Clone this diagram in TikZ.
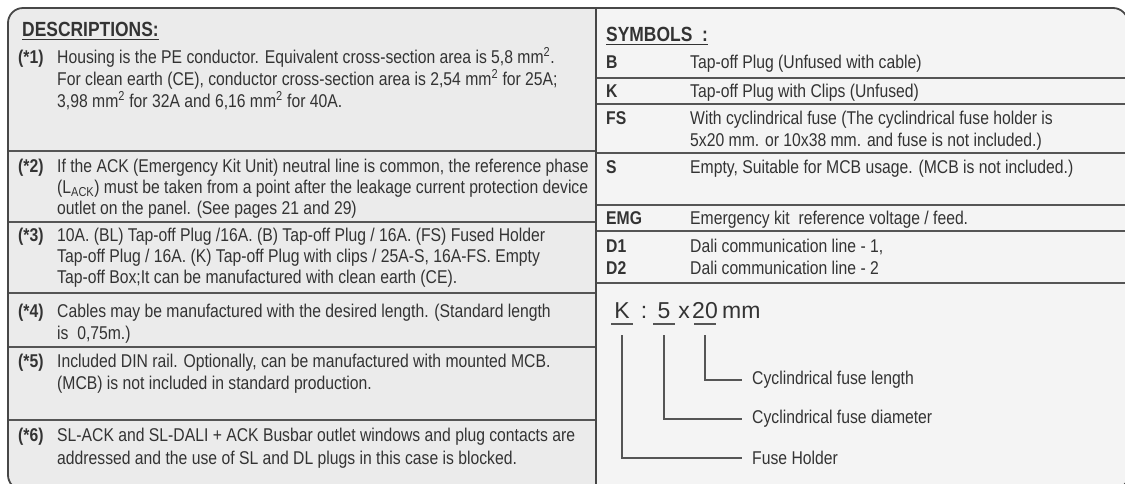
\documentclass[tikz,border=0pt]{standalone}
\usepackage{fontspec}
\setmainfont{Liberation Sans}[FakeStretch=0.85]
\newfontfamily\widefont{Liberation Sans}
\usetikzlibrary{calc}

\definecolor{Ink}{HTML}{333333}
\definecolor{Rule}{HTML}{555555}
\definecolor{PanelL}{HTML}{EBEBEB}
\definecolor{PanelR}{HTML}{F4F4F4}

\newcommand{\pxfont}[1]{\fontsize{#1}{#1}\selectfont}

\begin{document}
\begin{tikzpicture}[x=1pt, y=-1pt,
  lbl/.style={anchor=base west, inner sep=0, text=Ink, font=\pxfont{18.5}\bfseries},
  txt/.style={anchor=base west, inner sep=0, text=Ink, font=\pxfont{18.5}},
  head/.style={anchor=base west, inner sep=0, text=Ink, font=\pxfont{20.5}\bfseries},
  fusebig/.style={inner sep=0, text=Ink, font=\widefont\pxfont{23}},
  fuselbl/.style={anchor=west, inner xsep=10pt, inner ysep=0, text=Ink, font=\pxfont{18.5}},
  rowline/.style={draw=Rule, line width=1.2},
  frame/.style={draw=Ink!90, line width=1.8}]

\useasboundingbox (0,0) rectangle (1125,483);

%%%%%%%%%% Panels %%%%%%%%%%
 \fill [PanelR, rounded corners=15] (8,8) rectangle (1128,490);
 \begin{scope}
  \clip [rounded corners=15] (8,8) rectangle (1128,490);
  \fill [PanelL] (8,8) rectangle (596,490);
 \end{scope}

%%%%%%%%%% Descriptions %%%%%%%%%%
 \node [head] (desc) at (22,36) {DESCRIPTIONS:};
 \draw [Ink, line width=1] ($(desc.base west)+(0,3)$) -- ($(desc.base east)+(0,3)$);

 \node [lbl] (n1) at (18,63) {(*1)};
 \node [txt] (n1a) at (57,63) {Housing is the PE conductor. Equivalent cross-section area is 5,8 mm\textsuperscript{2}.};
 \node [txt] (n1b) at (57,85) {For clean earth (CE), conductor cross-section area is 2,54 mm\textsuperscript{2} for 25A;};
 \node [txt] (n1c) at (57,107) {3,98 mm\textsuperscript{2} for 32A and 6,16 mm\textsuperscript{2} for 40A.};

 \node [lbl] (n2) at (18,172) {(*2)};
 \node [txt] (n2a) at (57,172) {If the ACK (Emergency Kit Unit) neutral line is common, the reference phase};
 \node [txt] (n2b) at (57,193) {(L\textsubscript{ACK}) must be taken from a point after the leakage current protection device};
 \node [txt] (n2c) at (57,214) {outlet on the panel. (See pages 21 and 29)};

 \node [lbl] (n3) at (18,241) {(*3)};
 \node [txt] (n3a) at (57,241) {10A. (BL) Tap-off Plug /16A. (B) Tap-off Plug / 16A. (FS) Fused Holder};
 \node [txt] (n3b) at (57,262) {Tap-off Plug / 16A. (K) Tap-off Plug with clips / 25A-S, 16A-FS. Empty};
 \node [txt] (n3c) at (57,283) {Tap-off Box;It can be manufactured with clean earth (CE).};

 \node [lbl] (n4) at (18,317) {(*4)};
 \node [txt] (n4a) at (57,317) {Cables may be manufactured with the desired length. (Standard length};
 \node [txt] (n4b) at (57,339) {is\ \ 0,75m.)};

 \node [lbl] (n5) at (18,367) {(*5)};
 \node [txt] (n5a) at (57,367) {Included DIN rail. Optionally, can be manufactured with mounted MCB.};
 \node [txt] (n5b) at (57,389) {(MCB) is not included in standard production.};

 \node [lbl] (n6) at (18,441) {(*6)};
 \node [txt] (n6a) at (57,441) {SL-ACK and SL-DALI + ACK Busbar outlet windows and plug contacts are};
 \node [txt] (n6b) at (57,464) {addressed and the use of SL and DL plugs in this case is blocked.};

 % row lines
 \foreach \ry in {151,222,293,347,420}
  \draw [rowline] (8,\ry) -- (596,\ry);

%%%%%%%%%% Symbols %%%%%%%%%%
 \node [head] (symb) at (606,41) {SYMBOLS\ \ :};
 \draw [Ink, line width=1] ($(symb.base west)+(0,3)$) -- ($(symb.base east)+(0,3)$);

 \node [lbl] (sB) at (606,68) {B};
 \node [txt] (sBt) at (690,68) {Tap-off Plug (Unfused with cable)};
 \node [lbl] (sK) at (606,97) {K};
 \node [txt] (sKt) at (690,97) {Tap-off Plug with Clips (Unfused)};
 \node [lbl] (sFS) at (606,124) {FS};
 \node [txt] (sFSt) at (690,124) {With cyclindrical fuse (The cyclindrical fuse holder is};
 \node [txt] (sFSu) at (690,146) {5x20 mm. or 10x38 mm. and fuse is not included.)};
 \node [lbl] (sS) at (606,173) {S};
 \node [txt] (sSt) at (690,173) {Empty, Suitable for MCB usage. (MCB is not included.)};
 \node [lbl] (sE) at (606,224) {EMG};
 \node [txt] (sEt) at (690,224) {Emergency kit\ \ reference voltage / feed.};
 \node [lbl] (sD1) at (606,252) {D1};
 \node [txt] (sD1t) at (690,252) {Dali communication line - 1,};
 \node [lbl] (sD2) at (606,274) {D2};
 \node [txt] (sD2t) at (690,274) {Dali communication line - 2};

 % row lines
 \foreach \ry in {78,104,153,205,231,283}
  \draw [rowline] (596,\ry) -- (1128,\ry);

%%%%%%%%%% Fuse code %%%%%%%%%%
 \node [fusebig, anchor=base] (fK) at (622,318) {K};
 \node [fusebig, anchor=base] (fcolon) at (644,318) {:};
 \node [fusebig, anchor=base] (f5) at (664,318) {5};
 \node [fusebig, anchor=base] (fx) at (684,318) {x};
 \node [fusebig, anchor=base] (f20) at (705,318) {20};
 \node [fusebig, anchor=base west] (fmm) at (722,318) {mm};

 \node [fuselbl] (flen) at (742,380) {Cyclindrical fuse length};
 \node [fuselbl] (fdia) at (742,419) {Cyclindrical fuse diameter};
 \node [fuselbl] (fhold) at (742,458) {Fuse Holder};

 \draw [rowline] ($(fK.base)+(-11,6)$) -- ++(22,0);
 \draw [rowline] ($(f5.base)+(-11,6)$) -- ++(22,0);
 \draw [rowline] ($(f20.base)+(-11,6)$) -- ++(22,0);

 \coordinate (tK) at ($(fK.base)+(0,17)$);
 \coordinate (t5) at ($(f5.base)+(0,17)$);
 \coordinate (t20) at ($(f20.base)+(0,17)$);
 \draw [rowline] (t20) |- (flen.west);
 \draw [rowline] (t5) |- (fdia.west);
 \draw [rowline] (tK) |- (fhold.west);

%%%%%%%%%% Frame %%%%%%%%%%
 \draw [frame, rounded corners=15] (8,8) rectangle (1128,490);
 \draw [frame] (596,8) -- (596,490);

\end{tikzpicture}
\end{document}
